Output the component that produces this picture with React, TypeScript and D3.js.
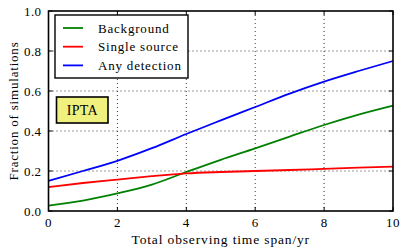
import * as d3 from "d3";

const years = [0, 1, 2, 3, 4, 5, 6, 7, 8, 9, 10];
const background = [0.027, 0.052, 0.088, 0.132, 0.195, 0.256, 0.313, 0.372, 0.43, 0.482, 0.527];
const singleSource = [0.12, 0.14, 0.157, 0.174, 0.188, 0.195, 0.2, 0.205, 0.211, 0.217, 0.222];
const anyDetection = [0.151, 0.2, 0.251, 0.314, 0.385, 0.453, 0.52, 0.587, 0.647, 0.7, 0.75];

const xTicks = [0, 2, 4, 6, 8, 10];
const yTicks = [0, 0.2, 0.4, 0.6, 0.8, 1.0];

const series = [
  { name: "Background", color: "#008000", values: background },
  { name: "Single source", color: "#ff0000", values: singleSource },
  { name: "Any detection", color: "#0000ff", values: anyDetection },
];

const W = 407;
const H = 252;
const m = { left: 48.5, right: 14, top: 11, bottom: 41 };
const font = '"Liberation Serif"';

export default function App() {
  const x = d3.scaleLinear().domain([0, 10]).range([m.left, W - m.right]);
  const y = d3.scaleLinear().domain([0, 1]).range([H - m.bottom, m.top]);
  const line = d3
    .line<number>()
    .x((_, i) => x(years[i]))
    .y((d) => y(d))
    .curve(d3.curveMonotoneX);

  const x0 = x(0), x1 = x(10), y0 = y(0), y1 = y(1);
  const txt = { fontFamily: font, fill: "#000" };

  return (
    <svg
      width={W}
      height={H}
      style={{ position: "absolute", left: 0, top: 0, background: "#fff" }}
    >
      {/* grid */}
      {xTicks.slice(1, -1).map((t) => (
        <line key={"gx" + t} x1={x(t)} x2={x(t)} y1={y1} y2={y0} stroke="#000" strokeWidth={0.8} strokeDasharray="1,3" />
      ))}
      {yTicks.slice(1, -1).map((t) => (
        <line key={"gy" + t} x1={x0} x2={x1} y1={y(t)} y2={y(t)} stroke="#000" strokeWidth={0.8} strokeDasharray="1,3" />
      ))}

      {/* ticks, inward on all sides */}
      {xTicks.map((t) => (
        <g key={"tx" + t}>
          <line x1={x(t)} x2={x(t)} y1={y0} y2={y0 - 4} stroke="#000" strokeWidth={1} />
          <line x1={x(t)} x2={x(t)} y1={y1} y2={y1 + 4} stroke="#000" strokeWidth={1} />
          <text x={x(t)} y={y0 + 16} textAnchor="middle" fontSize={13} letterSpacing={0.4} style={txt}>
            {t}
          </text>
        </g>
      ))}
      {yTicks.map((t) => (
        <g key={"ty" + t}>
          <line x1={x0} x2={x0 + 4} y1={y(t)} y2={y(t)} stroke="#000" strokeWidth={1} />
          <line x1={x1} x2={x1 - 4} y1={y(t)} y2={y(t)} stroke="#000" strokeWidth={1} />
          <text x={x0 - 7} y={y(t) + 4.5} textAnchor="end" fontSize={13} letterSpacing={0.4} style={txt}>
            {t.toFixed(1)}
          </text>
        </g>
      ))}

      {/* series */}
      {series.map((s) => (
        <path key={s.name} d={line(s.values) ?? ""} fill="none" stroke={s.color} strokeWidth={1.8} />
      ))}

      {/* frame */}
      <rect x={x0} y={y1} width={x1 - x0} height={y0 - y1} fill="none" stroke="#000" strokeWidth={1.6} />

      {/* legend */}
      <rect x={55} y={15} width={133} height={63} fill="#fff" stroke="#000" strokeWidth={1.4} />
      {series.map((s, i) => (
        <g key={"lg" + s.name}>
          <line x1={63} x2={83} y1={28 + i * 18.7} y2={28 + i * 18.7} stroke={s.color} strokeWidth={1.8} />
          <text x={98} y={28 + i * 18.7 + 4.5} fontSize={13} letterSpacing={0.8} style={txt}>
            {s.name}
          </text>
        </g>
      ))}

      {/* label box */}
      <rect x={56.5} y={97} width={51.5} height={26} fill="#f0f07f" stroke="#000" strokeWidth={1.6} />
      <text x={82.3} y={115} textAnchor="middle" fontSize={14} letterSpacing={0.3} style={txt}>
        IPTA
      </text>

      {/* axis labels */}
      <text x={(x0 + x1) / 2} y={244} textAnchor="middle" fontSize={13.5} letterSpacing={0.85} style={txt}>
        Total observing time span/yr
      </text>
      <text
        transform={`translate(18,${(y0 + y1) / 2}) rotate(-90)`}
        textAnchor="middle"
        fontSize={13}
        letterSpacing={0.8}
        style={txt}
      >
        Fraction of simulations
      </text>
    </svg>
  );
}
